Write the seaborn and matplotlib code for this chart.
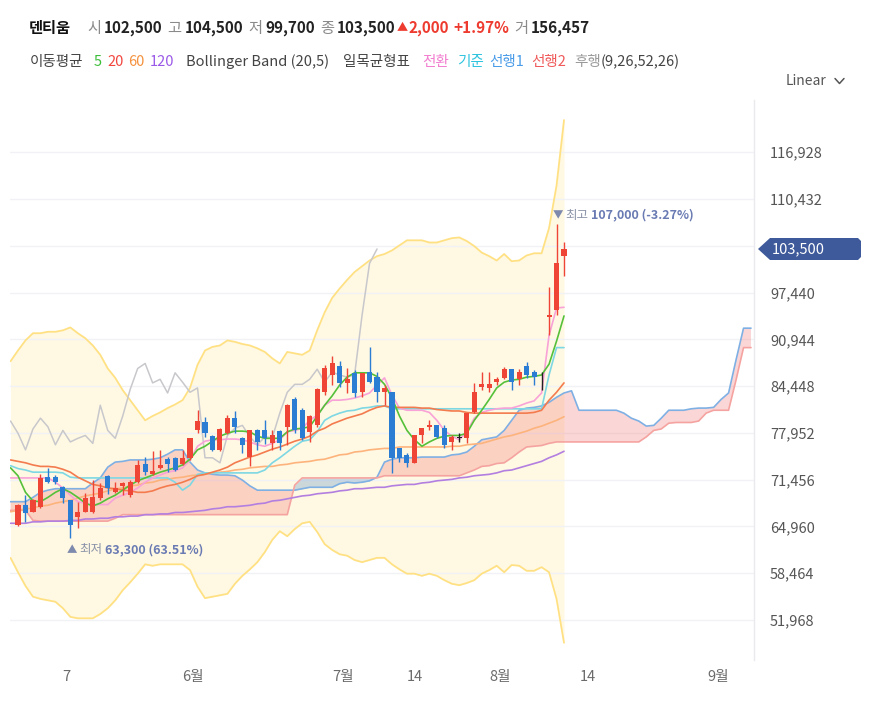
import matplotlib
matplotlib.use("Agg")
import matplotlib.pyplot as plt
from matplotlib.patches import Polygon
from matplotlib.lines import Line2D
import seaborn as sns
import pandas as pd
import numpy as np

sns.set_theme(style="white")
plt.rcParams['font.family'] = ['Noto Sans CJK KR', 'DejaVu Sans']
plt.rcParams['axes.unicode_minus'] = False

# daily candles, session 0 = first visible candle
opens = [65200, 67900, 67000, 67700, 71800, 71800, 70400, 68600, 66300, 67000,
         67000, 68900, 72000, 69700, 70600, 69300, 71100, 73600, 72200, 73100,
         74300, 74500, 73600, 74500, 78300, 79500, 77500, 75600, 77900, 80000,
         77200, 74600, 78300, 78300, 76500, 78200, 78800, 82600, 81100, 78100,
         79100, 83600, 86000, 87200, 84900, 86300, 83600, 86400, 85700, 83600,
         83600, 75800, 74900, 73800, 77600, 78800, 79000, 78600, 76700, 77300,
         77200, 80800, 84300, 84200, 85000, 85600, 86800, 85400, 87200, 86400,
         86000, 94100, 95000, 102500]
highs = [68100, 69300, 68800, 72200, 73100, 72100, 70600, 68600, 68400, 69600,
         71400, 71000, 72100, 71100, 71100, 71400, 74200, 74600, 75400, 75600,
         74600, 74600, 75600, 77200, 81100, 80100, 77600, 78600, 80400, 81000,
         77400, 78300, 78500, 79700, 78300, 78300, 82000, 82900, 81400, 80400,
         84200, 87400, 88700, 88000, 86900, 86700, 86300, 89900, 86400, 84600,
         83600, 75800, 75200, 77600, 78600, 79700, 79000, 79000, 77600, 77900,
         80700, 84900, 86400, 86400, 85700, 87100, 86800, 86800, 87800, 86700,
         86400, 98200, 107000, 104500]
lows = [65000, 65600, 66900, 67500, 71000, 70900, 68200, 63300, 64700, 66900,
        66800, 68700, 69500, 69600, 69300, 69000, 71000, 72100, 72100, 72900,
        72500, 72700, 73500, 74200, 77900, 77400, 75400, 75400, 77800, 77900,
        75200, 73300, 75600, 76400, 75600, 75600, 76300, 77900, 76900, 76700,
        78800, 83200, 84600, 84300, 83500, 82900, 82900, 84900, 82200, 81800,
        72400, 73900, 73200, 73800, 76500, 78300, 77200, 75800, 75600, 76700,
        76500, 80700, 83900, 83600, 84600, 85400, 83900, 84600, 85600, 84600,
        83900, 91500, 94300, 99700]
closes = [67900, 66800, 68600, 71700, 71100, 71100, 68900, 65200, 67000, 68900,
          69000, 70300, 70300, 70300, 71000, 71100, 73500, 72500, 72600, 73500,
          73600, 72800, 74500, 77200, 79600, 77900, 75600, 78500, 80000, 78800,
          76300, 78300, 76700, 77200, 77600, 76500, 81800, 78300, 77200, 80300,
          84000, 86900, 87600, 84900, 85400, 83500, 86300, 85000, 83600, 84200,
          74500, 74500, 73800, 77600, 78600, 79000, 77400, 76300, 77400, 77300,
          80700, 83600, 84700, 84700, 85400, 86800, 85000, 86400, 86000, 85700,
          86000, 94300, 101500, 103500]

# indicator values, first entry is one session left of candle 0
ma5 = [73100,
       72000, 69700, 68500, 68400, 69000, 69700, 70200, 69700, 69000, 68200,
       67800, 68200, 68800, 69300, 70000, 70700, 71300, 71700, 72100, 72500,
       72800, 73100, 73500, 74300, 75600, 76100, 76800, 77500, 77900, 78200,
       78200, 78100, 77500, 77200, 77200, 77200, 78100, 78500, 78600, 78800,
       80300, 81800, 83100, 84600, 85700, 86300, 86300, 86300, 85800, 84700,
       82800, 80300, 78300, 77000, 76100, 76700, 77200, 77500, 77600, 77600,
       77900, 79700, 81100, 82600, 84200, 85000, 85300, 85400, 85700, 85800,
       86000, 87500, 90700, 94200]
ma20 = [74200,
        74000, 73800, 73500, 73300, 73300, 73200, 72900, 72500, 71800, 71300,
        70800, 70600, 70300, 70200, 70000, 69900, 69700, 69700, 69900, 70300,
        70600, 70800, 71100, 71500, 72000, 72200, 72500, 72800, 73200, 73800,
        74200, 74600, 74900, 75300, 75700, 76000, 76400, 76800, 77100, 77500,
        78200, 78600, 79200, 79600, 80000, 80300, 80600, 81100, 81500, 81700,
        81500, 81500, 81500, 81500, 81400, 81400, 81200, 81100, 81000, 81000,
        80800, 80700, 80700, 80700, 80700, 80700, 80700, 80700, 80700, 80800,
        81100, 82500, 83600, 84900]
ma60 = [67000,
        67200, 67400, 67500, 67800, 67900, 68200, 68400, 68600, 68900, 69200,
        69400, 69600, 69900, 70200, 70300, 70600, 70700, 71000, 71100, 71400,
        71500, 71700, 71800, 72000, 72100, 72200, 72400, 72500, 72600, 72800,
        72900, 73100, 73200, 73300, 73300, 73500, 73600, 73800, 73900, 74000,
        74200, 74300, 74600, 74900, 75000, 75300, 75400, 75600, 75700, 75800,
        75800, 76000, 76000, 76000, 76000, 76000, 76000, 76000, 76100, 76100,
        76300, 76400, 76500, 76800, 77100, 77400, 77600, 77900, 78200, 78600,
        78900, 79300, 79700, 80200]
ma120 = [65400,
         65400, 65400, 65600, 65600, 65700, 65700, 65700, 65800, 65800, 66000,
         66000, 66100, 66100, 66300, 66300, 66400, 66400, 66600, 66600, 66700,
         66700, 66900, 66900, 67000, 67100, 67200, 67400, 67500, 67700, 67700,
         67800, 67900, 68100, 68200, 68500, 68600, 68800, 69000, 69200, 69300,
         69500, 69600, 69700, 69900, 70000, 70200, 70200, 70300, 70400, 70400,
         70600, 70700, 70800, 70800, 71000, 71100, 71300, 71400, 71500, 71700,
         71800, 72000, 72100, 72200, 72400, 72700, 72800, 73100, 73400, 73700,
         74000, 74500, 74900, 75400]
bb_upper = [87900,
            89400, 90800, 91800, 91800, 92000, 92000, 92200, 92600, 91800, 91100,
            90100, 88800, 86900, 85600, 83900, 82500, 81100, 79700, 80300, 80800,
            81400, 81900, 82500, 84200, 87400, 89400, 89900, 90100, 90800, 90600,
            90300, 90100, 89700, 89200, 88300, 87600, 89200, 89000, 88800, 89400,
            92200, 94700, 96700, 98000, 99200, 100300, 101100, 101900, 102500, 102800,
            103300, 104000, 104700, 104700, 104700, 104400, 104400, 104700, 105000, 105100,
            104600, 103900, 103000, 102500, 101900, 102800, 101800, 101900, 102600, 102900,
            102900, 106400, 112300, 121400]
bb_lower = [60600,
            58600, 56700, 55200, 54900, 54700, 54500, 53600, 52400, 52200, 52200,
            52200, 52800, 53600, 54700, 56100, 57200, 58400, 59700, 59500, 59700,
            59700, 59700, 59700, 58900, 56600, 55000, 55200, 55400, 55600, 57000,
            58100, 59000, 60000, 61400, 63100, 64300, 63600, 64600, 65400, 65600,
            64200, 62500, 61700, 61100, 60900, 60300, 60000, 60300, 60600, 60600,
            59700, 59000, 58400, 58400, 58100, 58400, 58100, 57500, 57000, 56800,
            57100, 57500, 58400, 58900, 59500, 58600, 59600, 59500, 58800, 58800,
            59300, 58600, 54900, 48800]
conv_line = [71700,
             71700, 71700, 71700, 71700, 71700, 71100, 70300, 69300, 68400, 68200,
             68000, 68000, 68000, 68900, 69300, 69700, 70300, 71100, 71700, 72100,
             72500, 72700, 73100, 74200, 76100, 76800, 77000, 77000, 77100, 77100,
             77000, 76700, 76300, 76100, 76500, 77000, 78100, 78300, 78600, 79700,
             80400, 81800, 82500, 82500, 82600, 82800, 83100, 83500, 84600, 85600,
             83200, 81400, 81100, 81100, 81100, 80800, 79700, 78300, 77500, 77000,
             78100, 80000, 80800, 81100, 81300, 81400, 81400, 81700, 82100, 82400,
             83500, 91500, 95300, 95400]
base_line = [73400,
             73000, 72800, 72500, 72500, 72500, 72500, 72400, 71800, 71700, 71700,
             71700, 71700, 71700, 71700, 71700, 71700, 71700, 71700, 71700, 71700,
             71700, 71100, 70000, 70700, 72200, 72400, 72400, 72400, 72400, 72400,
             72400, 72400, 72400, 72800, 73800, 74500, 75300, 76100, 76800, 77000,
             78100, 79700, 80300, 80700, 81000, 81100, 81400, 81500, 81700, 81700,
             81300, 81300, 81300, 81300, 81300, 81300, 81300, 81300, 81300, 81300,
             81300, 81300, 81300, 81300, 81300, 81300, 81300, 81300, 81300, 81300,
             81300, 86000, 89800, 89800]
# leading spans run 25 sessions past the last candle
span_a = [68400,
          68400, 68400, 69000, 69700, 70000, 70200, 70200, 70200, 70200, 70200,
          71000, 71700, 73200, 73900, 74000, 74200, 74200, 74200, 74300, 74500,
          75000, 75600, 75600, 73900, 72800, 72400, 72200, 72100, 72100, 72000,
          71400, 70600, 70000, 70000, 70000, 70000, 70000, 70000, 70200, 70400,
          70400, 70400, 70400, 70900, 71100, 71000, 71100, 71300, 71800, 73900,
          74300, 74500, 74500, 74500, 74600, 74600, 74600, 74600, 74900, 75000,
          75300, 76100, 77000, 77200, 77400, 78300, 79700, 81100, 81400, 81500,
          81700, 82200, 82900, 83500, 83800, 81100, 81100, 81100, 81100, 81100,
          81100, 80700, 80000, 79600, 78900, 79000, 80000, 81100, 81100, 81100,
          81300, 81400, 81400, 81500, 82600, 83500, 88100, 92500, 92500]
span_b = [67200,
          67200, 67200, 65800, 65700, 65700, 65700, 65700, 65700, 65700, 65700,
          65700, 65700, 65700, 66100, 66600, 66600, 66600, 66600, 66600, 66600,
          66600, 66600, 66600, 66600, 66600, 66600, 66600, 66600, 66600, 66600,
          66600, 66600, 66600, 66600, 66600, 66600, 66600, 70700, 71700, 71700,
          71700, 71700, 71700, 71700, 71700, 71700, 71700, 71700, 71700, 72000,
          72000, 72000, 72000, 72000, 72000, 72000, 72000, 72000, 72000, 72000,
          72400, 72800, 73300, 73400, 73700, 73800, 74500, 75300, 76000, 76100,
          76200, 76500, 76700, 76700, 76700, 76700, 76700, 76700, 76700, 76700,
          76700, 76700, 76700, 76700, 77400, 78300, 78500, 79300, 79400, 79400,
          79400, 79600, 80700, 81100, 81100, 81100, 85300, 89800, 89800]

ytick_vals = [51968, 58464, 64960, 71456, 77952, 84448, 90944, 97440, 103936, 110432, 116928]
ytick_text = ['51,968', '58,464', '64,960', '71,456', '77,952', '84,448', '90,944', '97,440', '',
              '110,432', '116,928']
xtick_pos = [6.4, 23.4, 43.4, 53.1, 64.4, 76.2, 93.6]
xtick_text = ['7', '6월', '7월', '14', '8월', '14', '9월']

W, H = 879, 702
fig = plt.figure(figsize=(W / 100, H / 100), dpi=100)
ax = fig.add_axes([10 / W, 1 - 660 / H, 744 / W, 560 / H])

n = len(closes)
ix = np.arange(-1, n)
sx = np.arange(-1, n + 25)

# bollinger band area
ax.fill_between(ix, bb_lower, bb_upper, color='#FFF8E3', lw=0, zorder=0.2)

# ichimoku cloud
a = np.array(span_a)
b = np.array(span_b)
ax.fill_between(sx, a, b, where=a >= b, interpolate=True, color='#F26B6B', alpha=0.27, lw=0, zorder=1)
ax.fill_between(sx, a, b, where=a < b, interpolate=True, color='#6F9CCB', alpha=0.35, lw=0, zorder=1)

cloud = pd.DataFrame({'idx': sx, 'span1': span_a, 'span2': span_b}).melt(
    'idx', var_name='series', value_name='price')
sns.lineplot(data=cloud, x='idx', y='price', hue='series',
             palette={'span1': '#7FB0E4', 'span2': '#F5A3A0'},
             estimator=None, legend=False, linewidth=1.2, ax=ax, zorder=2)

bands = pd.DataFrame({'idx': ix, 'upper': bb_upper, 'lower': bb_lower}).melt(
    'idx', var_name='series', value_name='price')
sns.lineplot(data=bands, x='idx', y='price', hue='series',
             palette={'upper': '#FFE184', 'lower': '#FFE184'},
             estimator=None, legend=False, linewidth=1.3, ax=ax, zorder=2)

# lagging span: close plotted 25 sessions back
lag = pd.DataFrame({'idx': np.arange(-1, n - 25), 'price': closes[24:]})
sns.lineplot(data=lag, x='idx', y='price', color='#C8C8CC', linewidth=1.1, ax=ax, zorder=2)

lines = pd.DataFrame({'idx': ix, 'ma120': ma120, 'ma60': ma60, 'base': base_line,
                      'conv': conv_line, 'ma20': ma20, 'ma5': ma5}).melt(
    'idx', var_name='series', value_name='price')
sns.lineplot(data=lines, x='idx', y='price', hue='series',
             hue_order=['ma120', 'ma60', 'base', 'conv', 'ma20', 'ma5'],
             palette={'ma120': '#B27FE0', 'ma60': '#FDB37C', 'base': '#7DD8E3',
                      'conv': '#F8A2D8', 'ma20': '#F37B4E', 'ma5': '#55C03A'},
             estimator=None, legend=False, linewidth=1.2, ax=ax, zorder=3)

# candles
cx = np.arange(n)
o = np.array(opens)
c = np.array(closes)
col = np.where(c > o, '#EF4536', np.where(c < o, '#2B7CD3', '#222222'))
ax.vlines(cx, lows, highs, colors=col, lw=1, zorder=4)
body = np.maximum(np.abs(c - o), 100)
ax.bar(cx, body, bottom=np.minimum(o, c) - (body - np.abs(c - o)) / 2,
       width=0.68, color=col, lw=0, zorder=4)

# axes styling
ax.set_xlim(-1.07, 98.4)
ax.set_ylim(46412, 124191)
ax.set_xlabel('')
ax.set_ylabel('')
ax.set_yticks(ytick_vals)
ax.set_yticklabels(ytick_text)
ax.yaxis.tick_right()
ax.tick_params(axis='y', length=0, pad=11.5, labelsize=10.5, labelcolor='#555555')
ax.set_xticks(xtick_pos)
ax.set_xticklabels(xtick_text)
ax.tick_params(axis='x', length=0, pad=7, labelsize=10.5, labelcolor='#6b6b6b')
ax.grid(axis='y', color='#F1F2F6', lw=1)
ax.grid(axis='x', visible=False)
ax.set_axisbelow(True)
for s in ['top', 'left', 'bottom']:
    ax.spines[s].set_visible(False)
ax.spines['right'].set_color('#E9E9EE')
ax.spines['right'].set_linewidth(1)

renderer = fig.canvas.get_renderer()


def ftext(x, y, s, **kw):
    return fig.text(x / W, 1 - y / H, s, va='center', ha='left', **kw)


def chain(items, y):
    # place runs at their reference x, but never on top of the previous run
    end = 0
    for x, s, colr, wt, gap, size in items:
        t = ftext(max(x, end + gap), y, s, fontsize=size, fontweight=wt, color=colr)
        end = t.get_window_extent(renderer=renderer).x1


# header
gray = '#8a8a8a'
dark = '#222222'
red = '#EE3B2F'
chain([(29, '덴티움', '#111111', 'bold', 0, 11),
       (87, '시', gray, 'normal', 10, 11), (104, '102,500', dark, 'bold', 3, 11),
       (165, '고', gray, 'normal', 5, 11), (183, '104,500', dark, 'bold', 3, 11),
       (243, '저', gray, 'normal', 5, 11), (260, '99,700', dark, 'bold', 3, 11),
       (312, '종', gray, 'normal', 5, 11), (330, '103,500', dark, 'bold', 3, 11),
       (386, '▲', red, 'normal', 1, 8), (399, '2,000', red, 'bold', 1, 11),
       (442, '+1.97%', red, 'bold', 4, 11),
       (500, '거', gray, 'normal', 5, 11), (518, '156,457', dark, 'bold', 3, 11)], 28)

# indicator legend line
chain([(30, '이동평균', '#444444', 'normal', 0, 10.5), (94, '5', '#3DBE3A', 'normal', 5, 10.5),
       (107, '20', '#F2473F', 'normal', 5, 10.5), (128, '60', '#F5923E', 'normal', 5, 10.5),
       (150, '120', '#9B59E8', 'normal', 5, 10.5),
       (186, 'Bollinger Band (20,5)', '#444444', 'normal', 10, 10.5),
       (343, '일목균형표', '#444444', 'normal', 10, 10.5),
       (422, '전환', '#F27FD0', 'normal', 5, 10.5), (457, '기준', '#2FC4DE', 'normal', 5, 10.5),
       (488, '선행1', '#4A9CE8', 'normal', 5, 10.5), (531, '선행2', '#F05A5A', 'normal', 4, 10.5),
       (574, '후행', '#9a9a9a', 'normal', 4, 10.5), (0, '(9,26,52,26)', '#444444', 'normal', 0, 10.5)],
      62)

# scale selector
ftext(786, 81, 'Linear', fontsize=10, color='#555555')
fig.add_artist(Line2D([835 / W, 839.5 / W, 844 / W], [1 - 78.5 / H, 1 - 83.5 / H, 1 - 78.5 / H],
                      transform=fig.transFigure, color='#555555', lw=1.1))

# high / low markers
chain([(553, '▼', '#7D8AAD', 'normal', 0, 7.5), (563, '최고', '#8A93A8', 'normal', 2, 9),
       (591, '107,000 (-3.27%)', '#6A7BB3', 'bold', 3, 9)], 215)
chain([(67, '▲', '#7D8AAD', 'normal', 0, 7.5), (77, '최저', '#8A93A8', 'normal', 2, 9),
       (104, '63,300 (63.51%)', '#6A7BB3', 'bold', 3, 9)], 550)

# current price tag
tag = [(758, 249), (770, 238), (858, 238), (861, 241), (861, 257), (858, 260), (770, 260)]
fig.add_artist(Polygon([(px / W, 1 - py / H) for px, py in tag], closed=True,
                       transform=fig.transFigure, facecolor='#3E5A9B', edgecolor='none'))
ftext(772, 249, f'{closes[-1]:,}', fontsize=10.5, color='white')

fig.savefig('out.png', dpi=100)
